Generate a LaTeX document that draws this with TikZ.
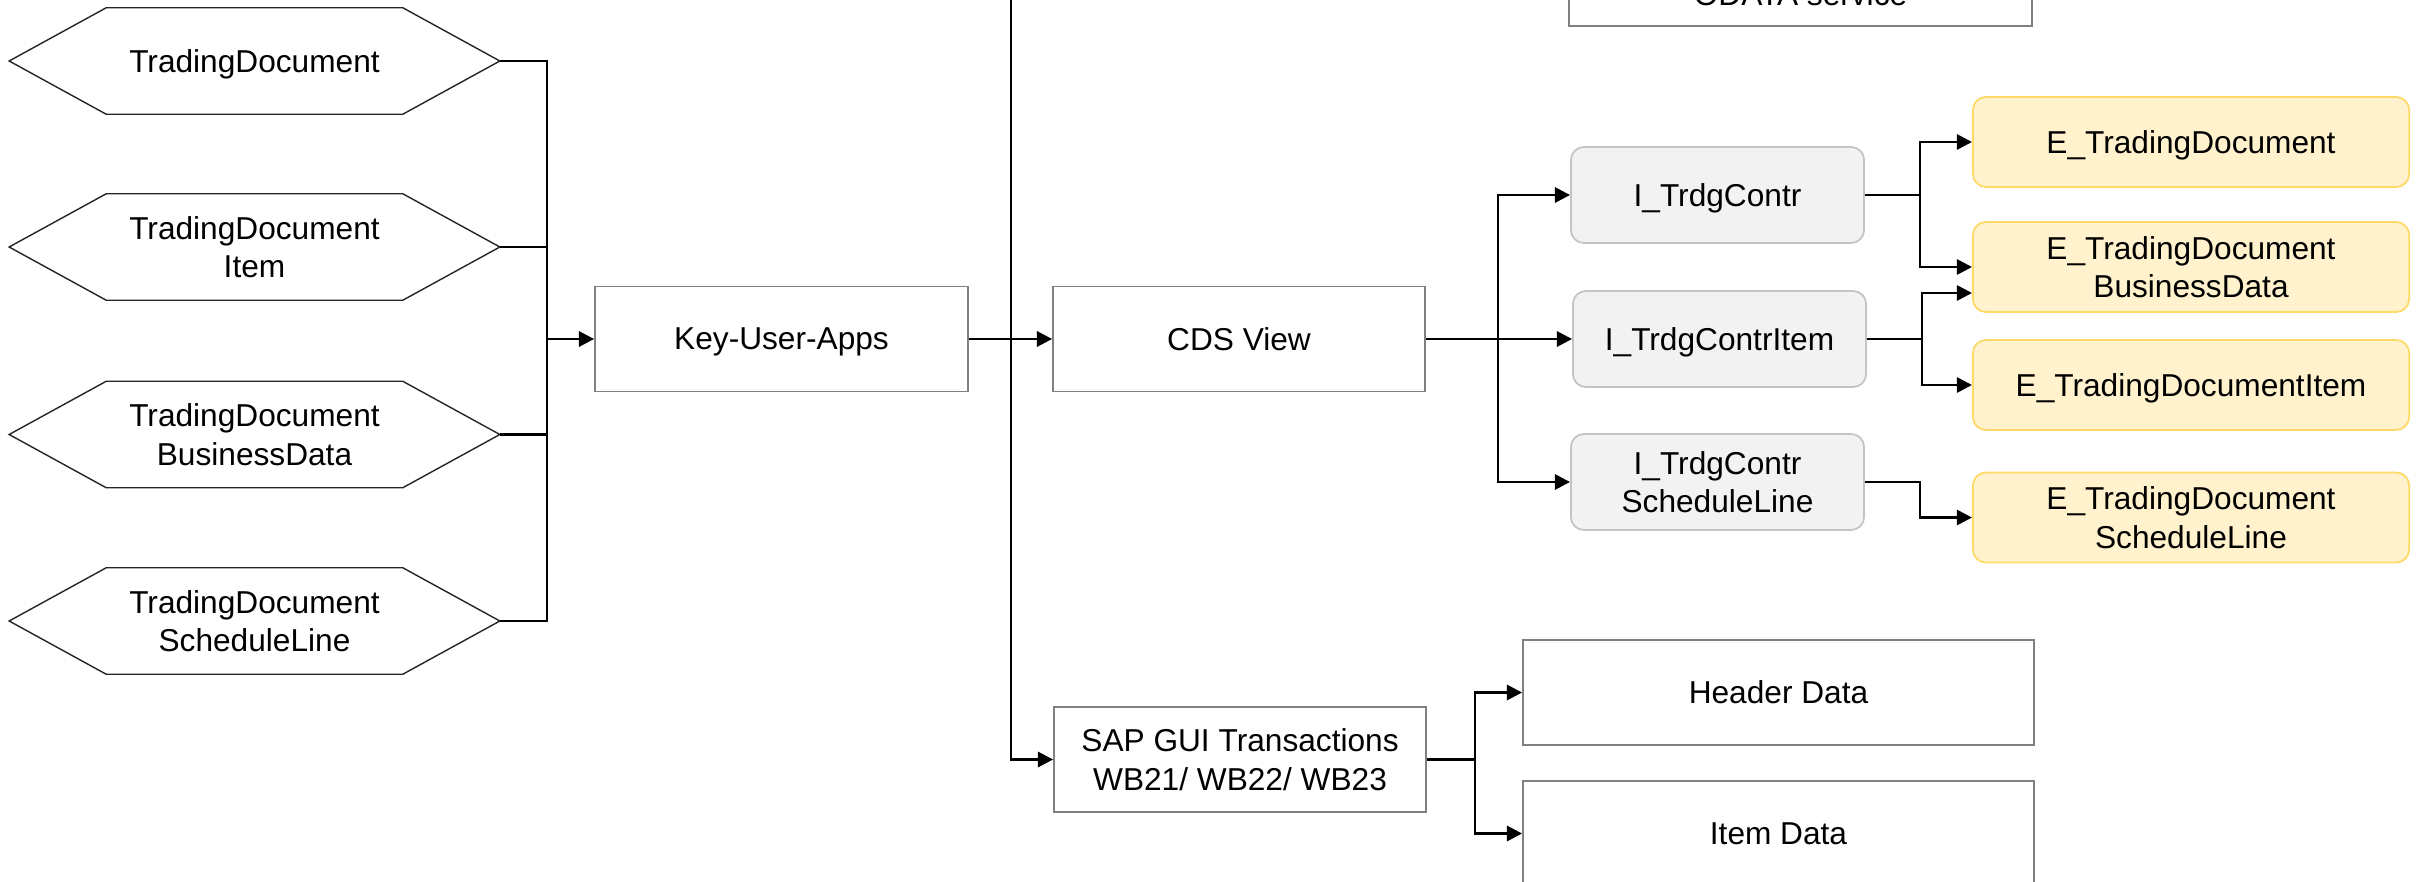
\documentclass[tikz,border=0pt]{standalone}
\usepackage{fontspec}
\setmainfont{Liberation Sans}
\usetikzlibrary{arrows.meta,calc}
\definecolor{boxline}{HTML}{808080}
\definecolor{hexline}{HTML}{262626}
\definecolor{ifill}{HTML}{F2F2F2}
\definecolor{ibord}{HTML}{C4C4C4}
\definecolor{efill}{HTML}{FFF2CC}
\definecolor{ebord}{HTML}{FFD966}
\begin{document}
\begin{tikzpicture}[x=0.01cm,y=-0.01cm,
  every node/.style={font=\fontsize{9}{11}\selectfont, align=center, inner sep=0pt, text depth=0pt},
  plainbox/.style={draw=boxline, line width=0.45pt, fill=white, minimum height=1.05cm},
  ibox/.style={draw=ibord, fill=ifill, line width=0.5pt, rounded corners=0.13cm, minimum height=0.96cm, minimum width=2.93cm},
  ebox/.style={draw=ebord, fill=efill, line width=0.5pt, rounded corners=0.13cm, minimum height=0.90cm, minimum width=4.36cm},
  hexnode/.style={minimum width=4.89cm, minimum height=1.05cm},
  hexdraw/.style={draw=hexline, line width=0.4pt},
  conn/.style={line width=0.75pt, black},
  arr/.style={conn, -{Triangle[length=4.3pt,width=4.3pt]}},
]
\useasboundingbox (0,0) rectangle (2424,882);
\clip (0,0) rectangle (2424,882);
\fill[white] (0,0) rectangle (2424,882);

% hexagons
\node[hexnode] (h1) at (254.5,61) {TradingDocument};
\node[hexnode] (h2) at (254.5,247) {TradingDocument\\Item};
\node[hexnode] (h3) at (254.5,434.5) {TradingDocument\\BusinessData};
\node[hexnode] (h4) at (254.5,621) {TradingDocument\\ScheduleLine};
\foreach \h in {h1,h2,h3,h4}
  \draw[hexdraw] (\h.west) -- ([xshift=0.97cm]\h.north west) -- ([xshift=-0.97cm]\h.north east)
     -- (\h.east) -- ([xshift=-0.97cm]\h.south east) -- ([xshift=0.97cm]\h.south west) -- cycle;

% plain boxes
\node[plainbox, minimum width=3.73cm] (key) at (781.5,339) {Key-User-Apps};
\node[plainbox, minimum width=3.72cm] (cds) at (1239,339) {CDS View};
\node[plainbox, minimum width=3.72cm] (sap) at (1240,759.5) {SAP GUI Transactions\\WB21/ WB22/ WB23};
\node[plainbox, minimum width=4.63cm] (odata) at (1800.5,-26.5) {};
\node[anchor=base] (odatatext) at (1800.5,6) {ODATA service};
\node[plainbox, minimum width=5.11cm] (header) at (1778.5,692.5) {Header Data};
\node[plainbox, minimum width=5.11cm] (itemdata) at (1778.5,833.5) {Item Data};

% interface views
\node[ibox] (ic1) at (1717.5,195) {I\_TrdgContr};
\node[ibox] (ic2) at (1719.5,339) {I\_TrdgContrItem};
\node[ibox] (ic3) at (1717.5,482) {I\_TrdgContr\\ScheduleLine};

% extension views
\node[ebox] (e1) at (2191,142) {E\_TradingDocument};
\node[ebox] (e2) at (2191,267) {E\_TradingDocument\\BusinessData};
\node[ebox] (e3) at (2191,385) {E\_TradingDocumentItem};
\node[ebox] (e4) at (2191,517.5) {E\_TradingDocument\\ScheduleLine};

% junctions
\coordinate (jl) at (547,339);
\coordinate (jm) at (1011,339);
\coordinate (jc) at (1498,339);

% connectors
\foreach \h in {h1,h2,h3,h4} \draw[conn] (\h.east) -| (jl);
\draw[arr] (jl) -- (key.west);
\draw[conn] (key.east) -- (jm);
\draw[arr] (jm) -- (cds.west);
\draw[arr] (jm) |- (sap.west);
\draw[arr] (jm) |- (odata.west);
\draw[conn] (cds.east) -- (jc);
\draw[arr] (jc) -- (ic2.west);
\draw[arr] (jc) |- (ic1.west);
\draw[arr] (jc) |- (ic3.west);
\draw[arr] (ic1.east) -- ++(55,0) |- (e1.west);
\draw[arr] (ic1.east) -- ++(55,0) |- (e2.west);
\draw[arr] (ic2.east) -- ++(55,0) |- ($(e2.west)+(0,26)$);
\draw[arr] (ic2.east) -- ++(55,0) |- (e3.west);
\draw[arr] (ic3.east) -- ++(55,0) |- (e4.west);
\draw[arr] (sap.east) -- ++(48,0) |- (header.west);
\draw[arr] (sap.east) -- ++(48,0) |- (itemdata.west);
\end{tikzpicture}
\end{document}
